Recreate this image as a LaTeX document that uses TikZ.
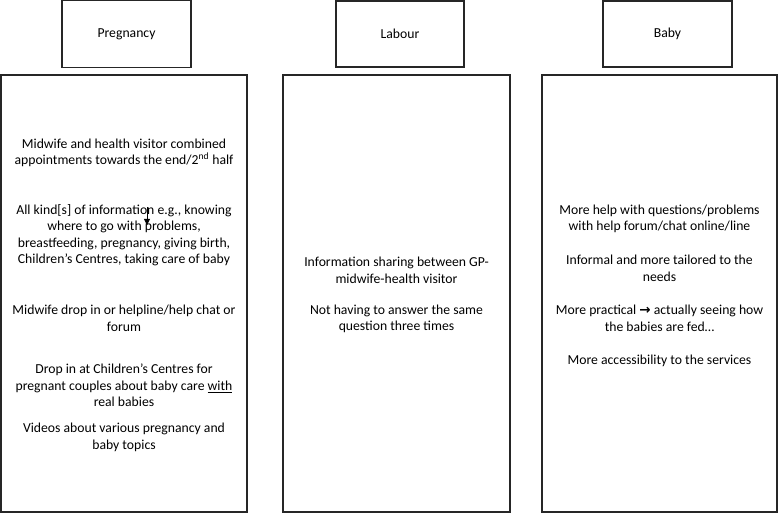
\documentclass[tikz,border=0pt]{standalone}
\usepackage{fontspec}
\usetikzlibrary{arrows.meta}
\setmainfont{Carlito}
\newfontfamily\arrowfont{DejaVu Sans}
\begin{document}
\begin{tikzpicture}[x=1pt,y=-1pt,
  box/.style={draw=black!85,line width=1.1pt,rectangle,inner sep=0pt},
  txt/.style={align=center,inner sep=0pt,font=\fontsize{13.7}{16.5}\selectfont},
  every node/.style={font=\fontsize{13.7}{16.5}\selectfont}]
\useasboundingbox (0,0) rectangle (779,513);
% header boxes
\node[box,minimum width=129pt,minimum height=67pt] (hP) at (126.5,34) {Pregnancy};
\node[box,minimum width=128pt,minimum height=66pt] (hL) at (400,34) {Labour};
\node[box,minimum width=129pt,minimum height=66pt] (hB) at (667.5,34) {Baby};
% big boxes
\node[box,minimum width=246pt,minimum height=437pt] (bP) at (124,293.5) {};
\node[box,minimum width=227pt,minimum height=437pt] (bL) at (396.5,293.5) {};
\node[box,minimum width=235pt,minimum height=437pt] (bB) at (659.5,293.5) {};
% pregnancy texts
\node[txt] (p1) at (124,153) {Midwife and health visitor combined\\appointments towards the end/2\textsuperscript{nd} half};
\node[txt] (p2) at (124,235) {All kind[s] of information e.g., knowing\\where to go with problems,\\breastfeeding, pregnancy, giving birth,\\Children’s Centres, taking care of baby};
\node[txt] (p3) at (124,318.5) {Midwife drop in or helpline/help chat or\\forum};
\node[txt] (p4) at (124,385.5) {Drop in at Children’s Centres for\\pregnant couples about baby care \underline{with}\\real babies};
\node[txt] (p5) at (124,437.5) {Videos about various pregnancy and\\baby topics};
% stray arrow
\coordinate (a1) at (147,207);
\coordinate (a2) at (147,225);
\draw[line width=0.8pt,-{Triangle[length=6pt,width=6pt]}] (a1) -- (a2);
% labour texts
\node[txt] (l1) at (396.5,270.5) {Information sharing between GP-\\midwife-health visitor};
\node[txt] (l2) at (396.5,319) {Not having to answer the same\\question three times};
% baby texts
\node[txt] (b1) at (659.5,219) {More help with questions/problems\\with help forum/chat online/line};
\node[txt] (b2) at (659.5,268.5) {Informal and more tailored to the\\needs};
\node[txt] (b3) at (659.5,318.5) {More practical {\arrowfont\bfseries\fontsize{13.5}{14}\selectfont →} actually seeing how\\the babies are fed…};
\node[txt] (b4) at (659.5,361) {More accessibility to the services};
\end{tikzpicture}
\end{document}
